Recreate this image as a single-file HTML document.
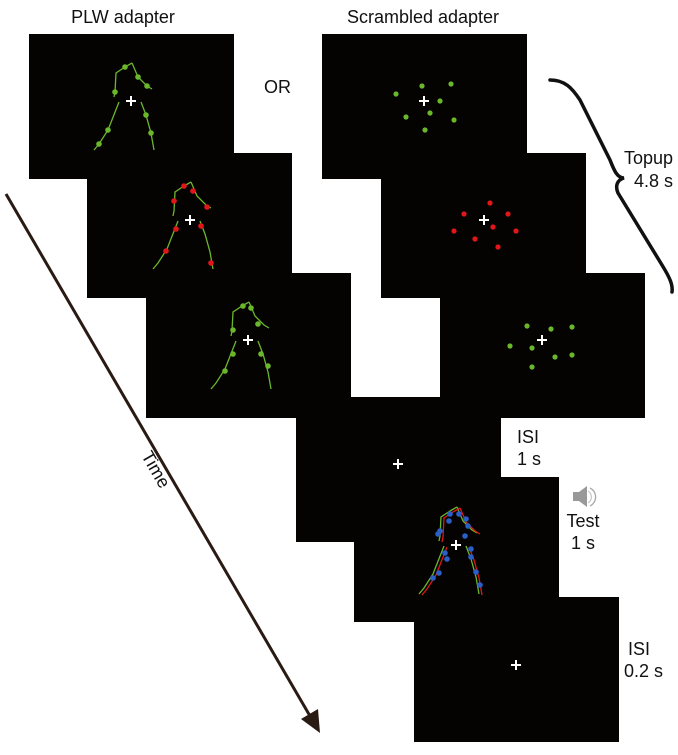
<!DOCTYPE html>
<html><head><meta charset="utf-8"><style>
html,body{margin:0;padding:0;background:#fff;}
body{width:678px;height:750px;overflow:hidden;}
svg text{font-family:"Liberation Sans",sans-serif;fill:#111;}
</style></head><body>
<svg width="678" height="750" viewBox="0 0 678 750" xmlns="http://www.w3.org/2000/svg">
<defs>
<g id="fig">
 <polyline points="-6,-34 -15,-28 -16,-9 -17,-4" fill="none" stroke-width="1.3"/>
 <polyline points="1,-38 7,-24 16,-15 21,-12" fill="none" stroke-width="1.3"/>
 <polyline points="-6,-34 1,-38" fill="none" stroke-width="1.3"/>
 <polyline points="-12,1 -23,29 -32,43 -37,49" fill="none" stroke-width="1.3"/>
 <polyline points="10,1 15,14 20,32 23,49" fill="none" stroke-width="1.3"/>
</g>
<g id="cross"><path d="M-5,0H5M0,-5V5" stroke="#fff" stroke-width="2"/></g>
</defs>
<g fill="#050302">
<rect x="29" y="34" width="205" height="145"/>
<rect x="322" y="34" width="205" height="145"/>
<rect x="87" y="153" width="205" height="145"/>
<rect x="381" y="153" width="205" height="145"/>
<rect x="146" y="273" width="205" height="145"/>
<rect x="440" y="273" width="205" height="145"/>
<rect x="296" y="397" width="205" height="145"/>
<rect x="354" y="477" width="205" height="145"/>
<rect x="414" y="597" width="205" height="145"/>
</g>
<g transform="translate(131,101)">
 <use href="#fig" stroke="#6ab72c"/>
 <g fill="#6ab72c"><circle cx="-6" cy="-34" r="2.8"/><circle cx="7" cy="-24" r="2.8"/><circle cx="16" cy="-15" r="2.8"/><circle cx="-16" cy="-9" r="2.8"/><circle cx="-23" cy="29" r="2.8"/><circle cx="-32" cy="43" r="2.8"/><circle cx="15" cy="14" r="2.8"/><circle cx="20" cy="32" r="2.8"/></g>
 <use href="#cross"/>
</g>
<g transform="translate(190,220)">
 <use href="#fig" stroke="#6ab72c"/>
 <g fill="#e0161b"><circle cx="-6" cy="-34" r="2.8"/><circle cx="3" cy="-29" r="2.8"/><circle cx="17" cy="-13" r="2.8"/><circle cx="-16" cy="-19" r="2.8"/><circle cx="-14" cy="9" r="2.8"/><circle cx="-24" cy="31" r="2.8"/><circle cx="11" cy="6" r="2.8"/><circle cx="21" cy="43" r="2.8"/></g>
 <use href="#cross"/>
</g>
<g transform="translate(248,340)">
 <use href="#fig" stroke="#6ab72c"/>
 <g fill="#6ab72c"><circle cx="-5" cy="-34" r="2.8"/><circle cx="3" cy="-32" r="2.8"/><circle cx="10" cy="-16" r="2.8"/><circle cx="-15" cy="-10" r="2.8"/><circle cx="-15" cy="14" r="2.8"/><circle cx="-23" cy="31" r="2.8"/><circle cx="13" cy="14" r="2.8"/><circle cx="20" cy="26" r="2.8"/></g>
 <use href="#cross"/>
</g>
<g fill="#6ab72c">
<circle cx="396" cy="94" r="2.6"/><circle cx="422" cy="86" r="2.6"/><circle cx="451" cy="84" r="2.6"/><circle cx="440" cy="101" r="2.6"/><circle cx="430" cy="113" r="2.6"/><circle cx="406" cy="117" r="2.6"/><circle cx="454" cy="120" r="2.6"/><circle cx="425" cy="130" r="2.6"/>
<circle cx="527" cy="326" r="2.6"/><circle cx="551" cy="329" r="2.6"/><circle cx="572" cy="327" r="2.6"/><circle cx="510" cy="346" r="2.6"/><circle cx="532" cy="348" r="2.6"/><circle cx="555" cy="357" r="2.6"/><circle cx="572" cy="355" r="2.6"/><circle cx="532" cy="367" r="2.6"/>
</g>
<g fill="#e0161b">
<circle cx="490" cy="203" r="2.6"/><circle cx="464" cy="214" r="2.6"/><circle cx="508" cy="214" r="2.6"/><circle cx="493" cy="227" r="2.6"/><circle cx="454" cy="231" r="2.6"/><circle cx="516" cy="231" r="2.6"/><circle cx="475" cy="239" r="2.6"/><circle cx="498" cy="247" r="2.6"/>
</g>
<g transform="translate(424,101)"><use href="#cross"/></g>
<g transform="translate(484,220)"><use href="#cross"/></g>
<g transform="translate(542,340)"><use href="#cross"/></g>
<g transform="translate(398,464)"><use href="#cross"/></g>
<g transform="translate(516,665)"><use href="#cross"/></g>
<g transform="translate(456,545)">
 <use href="#fig" stroke="#6ab72c"/>
 <g transform="translate(3,1)"><use href="#fig" stroke="#e0161b"/></g>
 <g fill="#2a5fc8"><circle cx="-6" cy="-31" r="2.8"/><circle cx="-7" cy="-24" r="2.8"/><circle cx="-16" cy="-14" r="2.8"/><circle cx="-18" cy="-11" r="2.8"/><circle cx="3" cy="-31" r="2.8"/><circle cx="10" cy="-26" r="2.8"/><circle cx="12" cy="-19" r="2.8"/><circle cx="9" cy="-9" r="2.8"/><circle cx="-11" cy="8" r="2.8"/><circle cx="-9" cy="14" r="2.8"/><circle cx="-23" cy="33" r="2.8"/><circle cx="-17" cy="28" r="2.8"/><circle cx="15" cy="4" r="2.8"/><circle cx="15" cy="12" r="2.8"/><circle cx="20" cy="27" r="2.8"/><circle cx="24" cy="40" r="2.8"/></g>
 <use href="#cross"/>
</g>
<path d="M550,80 C565,80 572,88 580,100 L610,160 C614,170 617,178 624,178 C617,180 615,186 618,193 L662,265 C670,278 673,285 672,292" fill="none" stroke="#111" stroke-width="3.5" stroke-linecap="round"/>
<line x1="6" y1="194" x2="310" y2="716" stroke="#2a1a14" stroke-width="3"/>
<polygon points="320,733 301,719 318,709" fill="#2a1a14"/>
<g transform="translate(573,487)">
 <rect x="0" y="5" width="6" height="9" fill="#999"/>
 <polygon points="6,5 14,-1 14,20 6,14" fill="#999"/>
 <path d="M17,1 A10,10 0 0 1 17,19" fill="none" stroke="#aaa" stroke-width="1.4"/>
 <path d="M15,4 A7,7 0 0 1 15,16" fill="none" stroke="#bbb" stroke-width="1"/>
</g>
<g font-size="18">
<text x="123" y="23" text-anchor="middle">PLW adapter</text>
<text x="423" y="23" text-anchor="middle">Scrambled adapter</text>
<text x="264" y="93">OR</text>
<text x="673" y="164" text-anchor="end">Topup</text>
<text x="673" y="187" text-anchor="end">4.8 s</text>
<text x="517" y="443">ISI</text>
<text x="517" y="465">1 s</text>
<text x="583" y="527" text-anchor="middle">Test</text>
<text x="583" y="549" text-anchor="middle">1 s</text>
<text x="628" y="655">ISI</text>
<text x="624" y="677">0.2 s</text>
<text x="155" y="475" text-anchor="middle" transform="rotate(60 155 470)">Time</text>
</g>
</svg>
</body></html>
